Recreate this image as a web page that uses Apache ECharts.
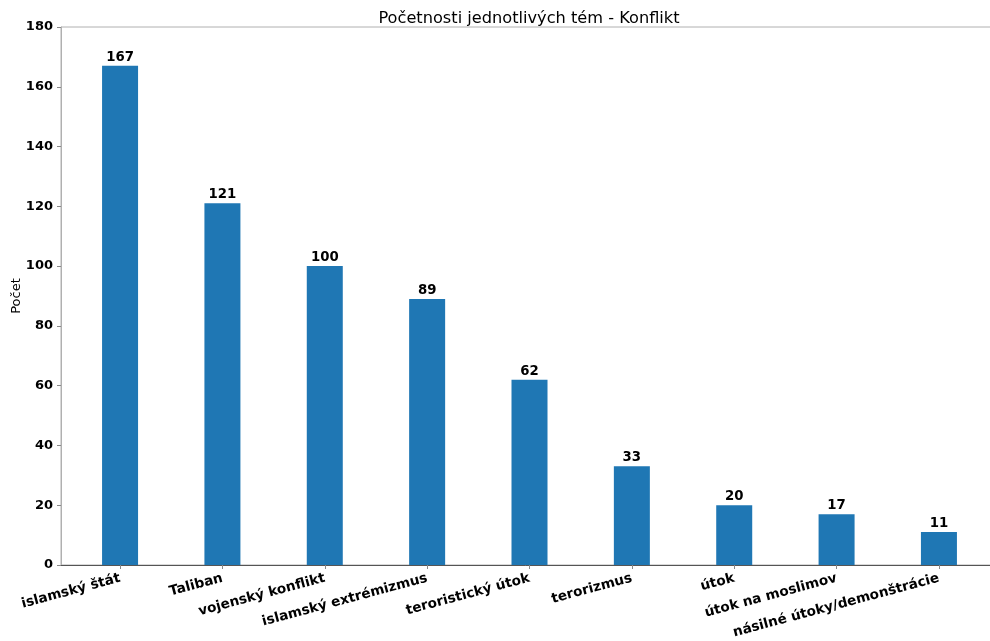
<!DOCTYPE html>
<html>
<head>
<meta charset="utf-8">
<script src="https://cdn.jsdelivr.net/npm/echarts@6/dist/echarts.min.js"></script>
<style>
html,body{margin:0;padding:0;background:#fff;}
#chart{width:990px;height:641px;}
</style>
</head>
<body>
<div id="chart"></div>
<script>
const categories = ["islamský štát", "Taliban", "vojenský konflikt", "islamský extrémizmus", "teroristický útok", "terorizmus", "útok", "útok na moslimov", "násilné útoky/demonštrácie"];
const counts = [167, 121, 100, 89, 62, 33, 20, 17, 11];
const yTicks = [0, 20, 40, 60, 80, 100, 120, 140, 160, 180];
const titleText = "Početnosti jednotlivých tém - Konflikt";
const yName = "Počet";

const positions = categories.map((c, i) => i);
const barData = counts.map((v, i) => [positions[i], v]);

const font = "DejaVu Sans";
const chart = echarts.init(document.getElementById('chart'), null, {renderer: 'canvas'});
chart.setOption({
  animation: false,
  backgroundColor: '#ffffff',
  title: {
    text: titleText,
    left: 524, textAlign: 'center',
    top: 6,
    textStyle: {fontFamily: font, fontSize: 16.2, fontWeight: 'normal', color: '#000'}
  },
  grid: {
    left: 61, right: -8, top: 27, bottom: 76,
    outerBoundsMode: 'none', containLabel: false,
    show: true, borderColor: '#b0b0b0', borderWidth: 1, backgroundColor: 'transparent'
  },
  xAxis: {
    type: 'value',
    min: -0.577, max: 8.577,
    splitLine: {show: false},
    axisLine: {show: true, onZero: false, lineStyle: {color: '#555', width: 1}},
    axisTick: {show: true, customValues: positions, length: 4, lineStyle: {color: '#888'}},
    axisLabel: {
      customValues: positions,
      formatter: v => categories[Math.round(v)],
      rotate: 15, margin: 13,
      fontFamily: font, fontSize: 13.6, fontWeight: 'bold', color: '#000'
    }
  },
  yAxis: {
    type: 'value',
    min: 0, max: 180, interval: 20,
    name: yName, nameLocation: 'middle', nameGap: 38, nameMoveOverlap: false,
    nameTextStyle: {fontFamily: font, fontSize: 13, color: '#000'},
    splitLine: {show: false},
    axisLine: {show: true, onZero: false, lineStyle: {color: '#b0b0b0', width: 1}},
    axisTick: {show: true, length: 4, lineStyle: {color: '#888'}},
    axisLabel: {
      formatter: v => yTicks.includes(v) ? String(v) : '',
      margin: 8,
      fontFamily: font, fontSize: 13, fontWeight: 'bold', color: '#000'
    }
  },
  series: [{
    type: 'bar',
    data: barData,
    barWidth: 36,
    itemStyle: {color: '#1f77b4'},
    label: {
      show: true, position: 'top', distance: 2,
      formatter: p => String(p.value[1]),
      fontFamily: font, fontSize: 13.3, fontWeight: 'bold', color: '#000'
    }
  }]
});
</script>
</body>
</html>
